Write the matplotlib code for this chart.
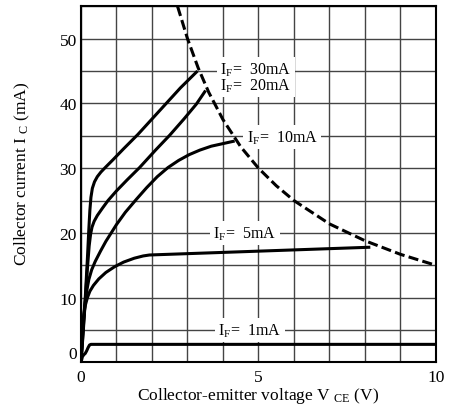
import numpy as np
import matplotlib
matplotlib.use("Agg")
import matplotlib.pyplot as plt

plt.rcParams['font.family'] = 'serif'
plt.rcParams['font.serif'] = ['Liberation Serif', 'DejaVu Serif']
plt.rcParams['mathtext.fontset'] = 'custom'
plt.rcParams['mathtext.rm'] = 'Liberation Serif'
plt.rcParams['mathtext.it'] = 'Liberation Serif:italic'

# curves: V_CE (V) -> I_C (mA)
v_30 = [0, 0.06, 0.12, 0.18, 0.22, 0.25, 0.28, 0.32, 0.38, 0.46, 0.56, 0.70, 0.9, 1.2, 1.6, 2.0, 2.4, 2.8, 3.28]
i_30 = [0, 5.0, 10.0, 16.0, 20.5, 23.5, 25.5, 26.9, 27.9, 28.7, 29.4, 30.2, 31.3, 33.0, 35.2, 37.6, 40.0, 42.4, 45.0]

v_20 = [0, 0.06, 0.12, 0.18, 0.23, 0.27, 0.31, 0.37, 0.46, 0.6, 0.76, 1.0, 1.3, 1.65, 2.1, 2.5, 2.9, 3.25, 3.51]
i_20 = [0, 4.5, 9.5, 14.5, 18.0, 19.8, 20.9, 21.8, 22.7, 23.8, 25.0, 26.5, 28.2, 30.1, 32.8, 35.1, 37.6, 39.9, 42.0]

v_10 = [0, 0.05, 0.1, 0.16, 0.22, 0.3, 0.4, 0.55, 0.7, 0.85, 1.0, 1.25, 1.56, 1.85, 2.15, 2.45, 2.75, 3.05,
        3.35, 3.67, 4.0, 4.33]
i_10 = [0, 5.0, 8.5, 11.0, 12.8, 14.3, 15.6, 17.2, 18.7, 20.0, 21.3, 23.2, 25.2, 27.0, 28.7, 30.1, 31.2, 32.1,
        32.8, 33.4, 33.8, 34.2]

v_5 = [0, 0.03, 0.07, 0.12, 0.18, 0.25, 0.35, 0.5, 0.7, 0.95, 1.2, 1.5, 1.75, 1.93, 8.15]
i_5 = [0, 4.0, 7.0, 8.8, 10.0, 11.0, 11.9, 12.9, 13.9, 14.8, 15.5, 16.1, 16.45, 16.6, 17.8]

v_1 = [0, 0.04, 0.08, 0.12, 0.16, 0.20, 0.24, 0.28, 10.0]
i_1 = [0, 0.9, 1.2, 1.4, 1.8, 2.3, 2.7, 2.8, 2.8]

# power dissipation limit (dashed)
v_lim = [2.72, 3.0, 3.3, 3.6, 4.0, 4.5, 5.0, 5.5, 6.0, 7.0, 8.0, 9.0, 10.0]
i_lim = [55.0, 50.0, 45.5, 41.7, 37.5, 33.3, 30.0, 27.3, 25.0, 21.4, 18.8, 16.7, 15.0]

# the 30mA and 20mA labels share one box (two lines)
labels = ['30mA\n20mA', '10mA', '5mA', '1mA']
label_v = [3.92, 4.67, 3.72, 3.86]
label_i = [44.1, 34.8, 20.0, 5.0]

fig = plt.figure(figsize=(4.51, 4.06), dpi=100)
ax = fig.add_axes([0.1796, 0.1047, 0.7871, 0.8773])

for v, i in [(v_30, i_30), (v_20, i_20), (v_10, i_10), (v_5, i_5), (v_1, i_1)]:
    ax.plot(v, i, color='black', lw=2.2, solid_capstyle='butt', solid_joinstyle='round', zorder=4)
ax.plot(v_lim, i_lim, color='black', lw=2.2, linestyle=(0, (3.3, 1.4)), zorder=4)

for txt, x, y in zip(labels, label_v, label_i):
    s = '\n'.join(r'I$_{\mathrm{F}}$=  ' + t for t in txt.split('\n'))
    ax.text(x, y, s, fontsize=11.5, ha='left', va='center', linespacing=0.88,
            bbox=dict(facecolor='white', edgecolor='none', pad=2.5), zorder=3)

ax.set_xlim(0, 10)
ax.set_ylim(0, 55)
ax.set_xticks([0, 5, 10])
ax.set_xticks(np.arange(0, 11, 1), minor=True)
ax.set_yticks([10, 20, 30, 40, 50])
ax.set_yticks(np.arange(0, 56, 5), minor=True)
ax.grid(which='both', color='#444444', lw=1.0, zorder=1)
ax.set_axisbelow(True)
ax.tick_params(which='both', length=0, labelsize=12.5)
ax.tick_params(axis='x', pad=5)
ax.tick_params(axis='y', pad=3)
for s in ax.spines.values():
    s.set_linewidth(1.5)

# zero label of the y axis sits a bit above the axis line
ax.annotate('0', xy=(0, 0), xycoords=('axes fraction', 'data'), xytext=(-3, 6),
            textcoords='offset points', ha='right', va='center', fontsize=12.5)

ax.set_xlabel(r'Collector-emitter voltage V ${}_{\mathrm{CE}}$ (V)', fontsize=12.5)
ax.set_ylabel(r'Collector current I ${}_{\mathrm{C}}$ (mA)', fontsize=12.5)
ax.xaxis.set_label_coords(0.5, -0.062)
ax.yaxis.set_label_coords(-0.138, 0.532)

fig.savefig('out.png', dpi=100)
